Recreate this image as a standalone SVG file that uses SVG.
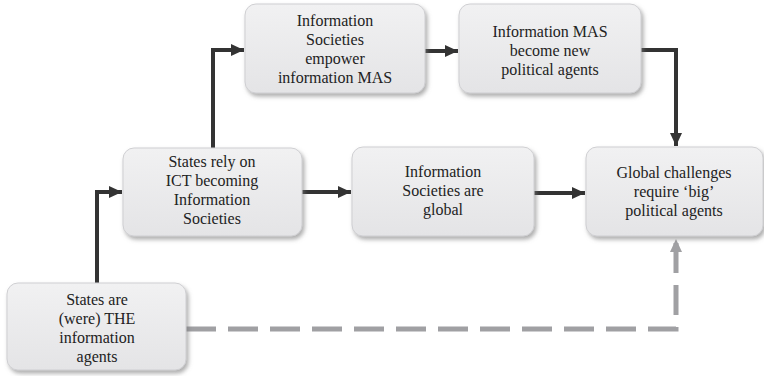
<svg xmlns="http://www.w3.org/2000/svg" width="764" height="376" viewBox="0 0 764 376">
<style>
.box{fill:url(#g);stroke:#cfcfd2;stroke-width:1;filter:url(#sh)}
.t{font-family:"Liberation Serif","Times New Roman",serif;font-size:16px;fill:#222;text-anchor:middle}
.c{fill:none;stroke:#333;stroke-width:4;marker-end:url(#ah)}
.d{fill:none;stroke:#a0a0a3;stroke-width:5;stroke-dasharray:30 12;marker-end:url(#ahg)}
</style>
<defs>
<linearGradient id="g" x1="0" y1="0" x2="0" y2="1">
<stop offset="0" stop-color="#f1f1f2"/>
<stop offset="1" stop-color="#e4e4e6"/>
</linearGradient>
<filter id="sh" x="-10%" y="-10%" width="125%" height="130%">
<feDropShadow dx="2" dy="3" stdDeviation="2" flood-color="#777" flood-opacity="0.6"/>
</filter>
<marker id="ah" markerUnits="userSpaceOnUse" markerWidth="14" markerHeight="14" viewBox="0 0 14 14" refX="13" refY="7" orient="auto">
<path d="M0,1 L13,7 L0,13 Z" fill="#333"/>
</marker>
<marker id="ahg" markerUnits="userSpaceOnUse" markerWidth="14" markerHeight="14" viewBox="0 0 14 14" refX="13" refY="7" orient="auto">
<path d="M0,1 L13,7 L0,13 Z" fill="#a0a0a3"/>
</marker>
</defs>
<g id="connectors">
<path class="c" d="M97,283 V192 H122"/>
<path class="c" d="M213,148 V50 H244"/>
<path class="c" d="M425,51 H458"/>
<path class="c" d="M641,50 H676 V146"/>
<path class="c" d="M302,192 H351"/>
<path class="c" d="M534,193 H585"/>
<path class="d" d="M186,329 H676 V239"/>
</g>
<g id="n1">
<rect class="box" x="7" y="283" width="179" height="87" rx="11"/>
<text class="t" x="97" y="305">States are</text>
<text class="t" x="97" y="324">(were) THE</text>
<text class="t" x="97" y="343">information</text>
<text class="t" x="97" y="362">agents</text>
</g>
<g id="n2">
<rect class="box" x="123" y="148" width="179" height="88" rx="11"/>
<text class="t" x="212" y="167">States rely on</text>
<text class="t" x="212" y="186">ICT becoming</text>
<text class="t" x="212" y="205">Information</text>
<text class="t" x="212" y="224">Societies</text>
</g>
<g id="n3">
<rect class="box" x="245" y="4" width="180" height="89" rx="11"/>
<text class="t" x="335" y="26">Information</text>
<text class="t" x="335" y="45">Societies</text>
<text class="t" x="335" y="64">empower</text>
<text class="t" x="335" y="83">information MAS</text>
</g>
<g id="n4">
<rect class="box" x="459" y="4" width="182" height="89" rx="11"/>
<text class="t" x="550" y="37">Information MAS</text>
<text class="t" x="550" y="56">become new</text>
<text class="t" x="550" y="75">political agents</text>
</g>
<g id="n5">
<rect class="box" x="352" y="147" width="182" height="89" rx="11"/>
<text class="t" x="443" y="177">Information</text>
<text class="t" x="443" y="196">Societies are</text>
<text class="t" x="443" y="215">global</text>
</g>
<g id="n6">
<rect class="box" x="586" y="147" width="177" height="89" rx="11"/>
<text class="t" x="674" y="178">Global challenges</text>
<text class="t" x="674" y="197">require ‘big’</text>
<text class="t" x="674" y="216">political agents</text>
</g>
</svg>
